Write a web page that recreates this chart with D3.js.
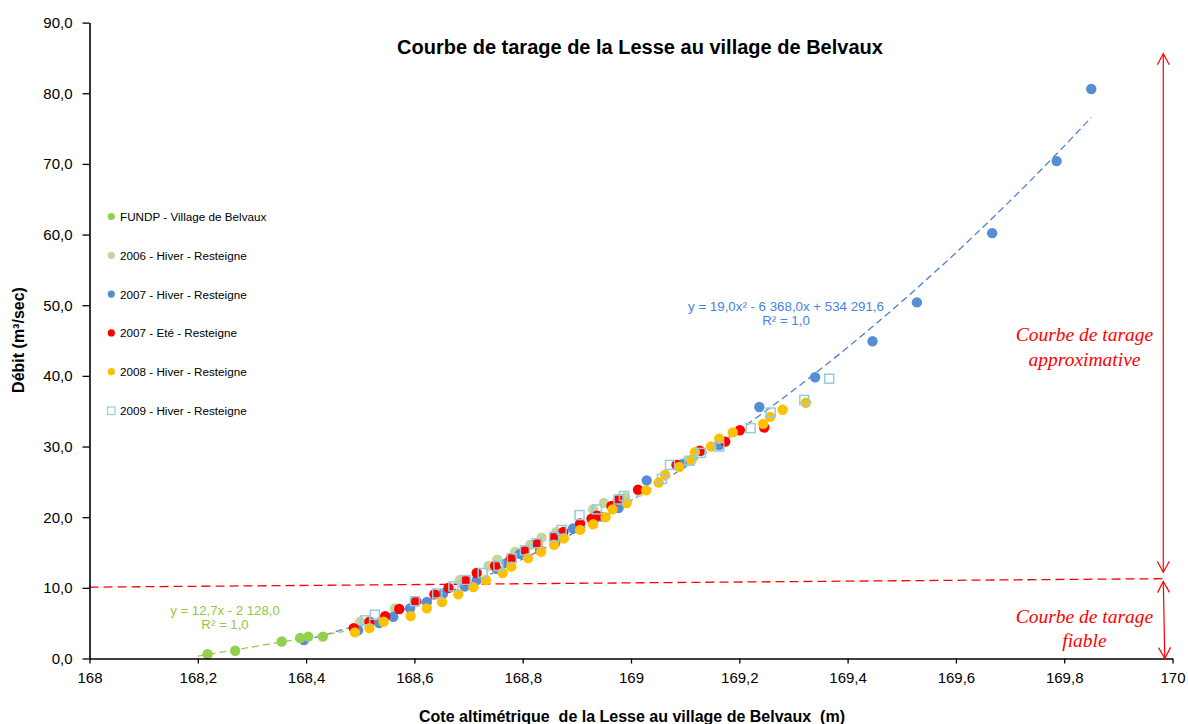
<!DOCTYPE html>
<html><head><meta charset="utf-8">
<script src="https://cdn.jsdelivr.net/npm/d3@7"></script>
<style>
body{margin:0;background:#fff;}
text{font-family:"Liberation Sans",Arial,sans-serif;}
</style>
</head><body>
<svg id="chart" width="1188" height="724"></svg>
<script>
// ---------- data ----------
const chartTitle = "Courbe de tarage de la Lesse au village de Belvaux";
const xTitle = "Cote altimétrique  de la Lesse au village de Belvaux  (m)";
const yTitle = "Débit (m³/sec)";
const xTicks = [168,168.2,168.4,168.6,168.8,169,169.2,169.4,169.6,169.8,170];
const yTicks = [0,10,20,30,40,50,60,70,80,90];
const seriesNames = ["FUNDP - Village de Belvaux","2006 - Hiver - Resteigne","2007 - Hiver - Resteigne","2007 - Eté - Resteigne","2008 - Hiver - Resteigne","2009 - Hiver - Resteigne"];

const fundp = [[168.218,0.6],[168.269,1.1],[168.355,2.4],[168.389,2.9],[168.404,3.1],[168.431,3.1]];
const hiver2006 = [[168.500,5.2],[168.564,7.1],[168.684,11.1],[168.737,13.1],[168.753,14.0],[168.786,15.1],[168.814,16.1],[168.835,17.1],[168.862,17.9],[168.930,21.1],[168.950,22.0],[168.989,22.8],[169.015,23.6],[169.103,27.9]];
const hiver2007 = [[168.396,2.6],[168.496,4.0],[168.535,5.0],[168.561,5.9],[168.592,7.1],[168.623,8.0],[168.653,9.2],[168.693,10.2],[168.715,11.1],[168.752,12.7],[168.770,13.5],[168.795,14.8],[168.832,15.3],[168.860,16.3],[168.893,18.4],[168.930,19.4],[168.943,20.1],[168.977,21.3],[169.029,25.2],[169.094,27.5],[169.163,30.2],[169.237,35.6],[169.340,39.8],[169.446,44.9],[169.528,50.4],[169.667,60.2],[169.786,70.4],[169.850,80.6]];
const ete2007 = [[168.488,4.3],[168.517,5.2],[168.546,6.0],[168.572,7.0],[168.603,8.1],[168.637,9.1],[168.663,10.0],[168.695,11.0],[168.715,12.1],[168.749,13.1],[168.778,14.1],[168.804,15.2],[168.827,16.2],[168.858,17.2],[168.875,17.9],[168.906,19.1],[168.927,19.8],[168.937,20.2],[168.964,21.6],[168.977,22.5],[169.013,23.9],[169.084,27.4],[169.127,29.4],[169.174,30.7],[169.201,32.3],[169.246,32.7]];
const hiver2008 = [[168.490,3.7],[168.517,4.3],[168.543,5.2],[168.593,6.0],[168.623,7.1],[168.651,8.0],[168.681,9.1],[168.709,10.1],[168.732,11.1],[168.763,12.1],[168.779,13.0],[168.810,14.2],[168.834,15.1],[168.858,16.1],[168.876,17.0],[168.906,18.2],[168.930,19.0],[168.953,20.0],[168.966,21.1],[168.992,22.0],[169.028,23.8],[169.051,24.9],[169.063,26.0],[169.089,27.1],[169.112,28.1],[169.118,29.2],[169.148,30.0],[169.163,31.1],[169.188,32.0],[169.244,33.2],[169.257,34.2],[169.280,35.2],[169.323,36.2]];
const hiver2009 = [[168.509,5.4],[168.527,6.2],[168.601,8.1],[168.642,9.2],[168.672,10.2],[168.695,11.1],[168.726,12.1],[168.755,13.1],[168.780,14.2],[168.804,15.3],[168.826,16.3],[168.858,17.2],[168.872,18.2],[168.905,20.3],[168.937,21.1],[168.977,22.5],[168.987,23.0],[169.057,25.4],[169.072,27.4],[169.108,28.0],[169.129,29.1],[169.163,30.0],[169.221,32.6],[169.258,34.8],[169.320,36.6],[169.366,39.6]];

const eqBlue = ["y = 19,0x² - 6 368,0x + 534 291,6","R² = 1,0"];
const eqGreen = ["y = 12,7x - 2 128,0","R² = 1,0"];
const zoneLabels = [["Courbe de tarage","approximative"],["Courbe de tarage","fiable"]];
const limitLine = [[168,10.1],[169.983,11.3]];

// ---------- drawing ----------
const svg = d3.select("#chart");
svg.append("rect").attr("width",1188).attr("height",724).attr("fill","#fff");
const x = d3.scaleLinear().domain([168,170]).range([89.5,1172.5]);
const y = d3.scaleLinear().domain([0,90]).range([658.5,22.6]);

const colors = ["#92D050","#C3D69B","#558ED5","#FF0000","#FFC000","#93CDDD"];

// limit dashed line
svg.append("line")
  .attr("x1",x(limitLine[0][0])).attr("y1",y(limitLine[0][1]))
  .attr("x2",x(limitLine[1][0])).attr("y2",y(limitLine[1][1]))
  .attr("stroke","#FF0000").attr("stroke-width",1.3).attr("stroke-dasharray","9,5");

// regression helpers
function linFit(pts){
  const mx=d3.mean(pts,d=>d[0]), my=d3.mean(pts,d=>d[1]);
  let sxy=0,sxx=0; pts.forEach(([a,b])=>{sxy+=(a-mx)*(b-my); sxx+=(a-mx)*(a-mx);});
  const m=sxy/sxx; return v=>my+m*(v-mx);
}
function quadFit(pts){
  const c=169; let S=[0,0,0,0,0],T=[0,0,0];
  pts.forEach(([a,b])=>{const u=a-c; for(let k=0;k<5;k++)S[k]+=Math.pow(u,k); for(let k=0;k<3;k++)T[k]+=b*Math.pow(u,k);});
  const A=[[S[0],S[1],S[2]],[S[1],S[2],S[3]],[S[2],S[3],S[4]]];
  const B=T.slice();
  for(let i=0;i<3;i++){for(let j=i+1;j<3;j++){const f=A[j][i]/A[i][i];for(let k=i;k<3;k++)A[j][k]-=f*A[i][k];B[j]-=f*B[i];}}
  const s=[0,0,0];
  for(let i=2;i>=0;i--){let v=B[i];for(let k=i+1;k<3;k++)v-=A[i][k]*s[k];s[i]=v/A[i][i];}
  return v=>{const u=v-c;return s[0]+s[1]*u+s[2]*u*u;};
}
const line = d3.line().x(d=>x(d[0])).y(d=>y(d[1]));

// blue quadratic trendline over 2007 Hiver range
const qf = quadFit(hiver2007);
const bx = d3.extent(hiver2007,d=>d[0]);
const bpts = d3.range(0,101).map(i=>{const v=bx[0]+(bx[1]-bx[0])*i/100;return [v,qf(v)];});
svg.append("path").attr("d",line(bpts)).attr("fill","none")
  .attr("stroke","#4F81D0").attr("stroke-width",1.3).attr("stroke-dasharray","7,4");

// green linear trendline
const lf = linFit(fundp);
const gx = [168.2,168.47];
svg.append("path").attr("d",line(gx.map(v=>[v,lf(v)]))).attr("fill","none")
  .attr("stroke","#92D050").attr("stroke-width",1.3).attr("stroke-dasharray","7,4");

// markers
function circles(data,color){
  svg.append("g").selectAll("circle").data(data).join("circle")
    .attr("cx",d=>x(d[0])).attr("cy",d=>y(d[1])).attr("r",5.2).attr("fill",color);
}
circles(hiver2006,colors[1]);
circles(hiver2007,colors[2]);
circles(ete2007,colors[3]);
circles(hiver2008,colors[4]);
svg.append("g").selectAll("rect").data(hiver2009).join("rect")
  .attr("x",d=>x(d[0])-4.5).attr("y",d=>y(d[1])-4.5).attr("width",9).attr("height",9)
  .attr("fill","none").attr("stroke",colors[5]).attr("stroke-width",1.5);
circles(fundp,colors[0]);

// axes
const fmtY = d=>d3.format(".1f")(d).replace(".",",");
const fmtX = d=>String(Math.round(d*10)/10).replace(".",",");
const gy = svg.append("g").attr("transform","translate(89.5,0)")
  .call(d3.axisLeft(y).tickValues(yTicks).tickSize(7).tickSizeOuter(0).tickPadding(10).tickFormat(fmtY));
const gxA = svg.append("g").attr("transform","translate(0,658.5)")
  .call(d3.axisBottom(x).tickValues(xTicks).tickSize(5).tickSizeOuter(0).tickPadding(9).tickFormat(fmtX));
[gy,gxA].forEach(g=>{
  g.select(".domain").attr("stroke","#000").attr("stroke-width",1.6);
  g.selectAll(".tick line").attr("stroke","#000").attr("stroke-width",1.3);
  g.selectAll(".tick text").attr("fill","#000").style("font-size","15px").style("font-family","'Liberation Sans',Arial,sans-serif");
});

// titles
svg.append("text").attr("x",640).attr("y",54).attr("text-anchor","middle")
  .style("font-size","20px").style("font-weight","bold").text(chartTitle);
svg.append("text").attr("x",632).attr("y",722).attr("text-anchor","middle")
  .style("font-size","16px").style("font-weight","bold").attr("xml:space","preserve").text(xTitle);
svg.append("text").attr("transform","translate(24,340) rotate(-90)").attr("text-anchor","middle")
  .style("font-size","16px").style("font-weight","bold").text(yTitle);

// legend
const lg = svg.append("g");
seriesNames.forEach((name,i)=>{
  const ly = 217 + i*38.8;
  if(i===5){
    lg.append("rect").attr("x",107.5).attr("y",ly-4).attr("width",7.5).attr("height",7.5)
      .attr("fill","none").attr("stroke",colors[5]).attr("stroke-width",1.2);
  } else {
    lg.append("circle").attr("cx",111.3).attr("cy",ly-0.5).attr("r",3.6).attr("fill",colors[i]);
  }
  lg.append("text").attr("x",120).attr("y",ly+4).style("font-size","11.7px").attr("fill","#000").text(name);
});

// equations
eqBlue.forEach((t,i)=>svg.append("text").attr("x",786).attr("y",310.5+i*14.5).attr("text-anchor","middle")
  .style("font-size","13.3px").attr("fill","#4682E6").text(t));
eqGreen.forEach((t,i)=>svg.append("text").attr("x",225).attr("y",614.5+i*14).attr("text-anchor","middle")
  .style("font-size","13.2px").attr("fill","#92C83E").text(t));

// zone arrows
const ax = 169.983;
function arrow(x1,y1,x2,y2){
  svg.append("line").attr("x1",x1).attr("y1",y1).attr("x2",x2).attr("y2",y2)
    .attr("stroke","#FF0000").attr("stroke-width",1.2);
  [[x1,y1,x2,y2],[x2,y2,x1,y1]].forEach(([ax1,ay1,ax2,ay2])=>{
    const ang=Math.atan2(ay2-ay1,ax2-ax1), L=11, W=6;
    const bx=ax1+Math.cos(ang)*L, by=ay1+Math.sin(ang)*L;
    const px=-Math.sin(ang)*W, py=Math.cos(ang)*W;
    svg.append("polyline").attr("points",`${bx+px},${by+py} ${ax1},${ay1} ${bx-px},${by-py}`)
      .attr("fill","none").attr("stroke","#FF0000").attr("stroke-width",1.2);
  });
}
arrow(x(ax),y(85.6),x(ax),y(12.2));
arrow(x(ax),y(10.9),x(ax)+1.5,y(0));

// zone labels
const zl = [[334,359],[616,640]];
zoneLabels.forEach((lines,i)=>lines.forEach((t,j)=>{
  svg.append("text").attr("x",1084.5).attr("y",zl[i][j]+6.5).attr("text-anchor","middle")
    .style("font-family","'Liberation Serif','Times New Roman',serif").style("font-style","italic")
    .style("font-size","19.5px").attr("fill","#FF0000").text(t);
}));
</script>
</body></html>
